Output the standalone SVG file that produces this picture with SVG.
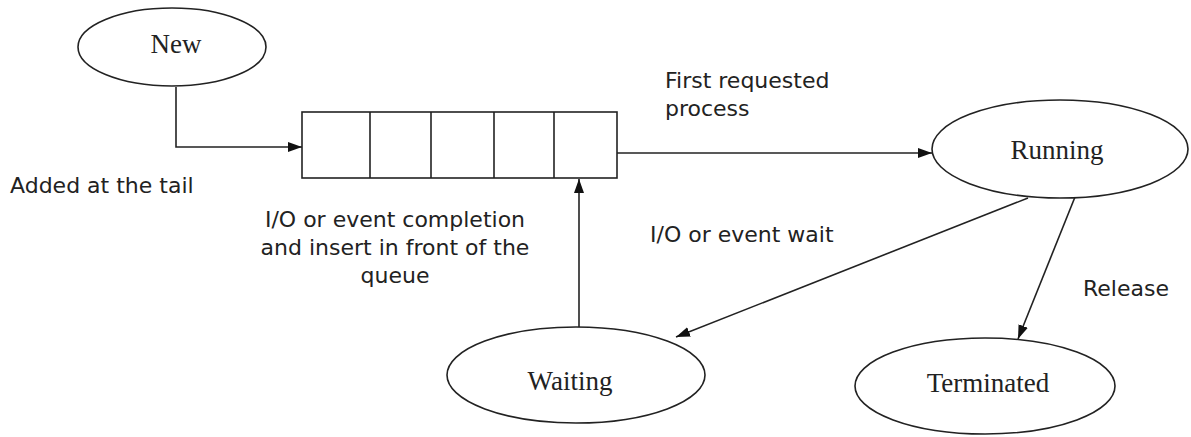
<svg xmlns="http://www.w3.org/2000/svg" width="1191" height="437" viewBox="0 0 1191 437">
<style>
.node{fill:#fff;stroke:#222;stroke-width:1.6}
.nt{font-family:"Liberation Serif",serif;font-size:27px;fill:#222;text-anchor:middle}
.lbl{font-family:"DejaVu Sans",sans-serif;font-size:22px;fill:#222}
.c{fill:none;stroke:#222;stroke-width:1.6;marker-end:url(#ah)}
</style>
<defs>
<marker id="ah" viewBox="0 0 14 10" refX="14" refY="5" markerWidth="14" markerHeight="10" markerUnits="userSpaceOnUse" orient="auto">
<path d="M0,0 L14,5 L0,10 Z" fill="#111"/>
</marker>
</defs>
<rect width="1191" height="437" fill="#fff"/>
<g id="connectors">
<path class="c" d="M176,87 V147 H302"/>
<path class="c" d="M617,153 H932"/>
<path class="c" d="M1028,198 L676,337"/>
<path class="c" d="M1075,197 L1018,339"/>
<path class="c" d="M579,327 V179"/>
</g>
<g id="new">
<ellipse class="node" cx="172" cy="47" rx="94" ry="39"/>
<text class="nt" x="176" y="53">New</text>
</g>
<g id="queue">
<rect class="node" x="302" y="112" width="315" height="66"/>
<path d="M370,112 V178 M431,112 V178 M494,112 V178 M554,112 V178" stroke="#222" stroke-width="1.6" fill="none"/>
</g>
<g id="running">
<ellipse class="node" cx="1060" cy="149" rx="128" ry="49"/>
<text class="nt" x="1057" y="159">Running</text>
</g>
<g id="waiting">
<ellipse class="node" cx="576" cy="375" rx="129" ry="48"/>
<text class="nt" x="570" y="390">Waiting</text>
</g>
<g id="terminated">
<ellipse class="node" cx="985" cy="386" rx="130" ry="48"/>
<text class="nt" x="988" y="392">Terminated</text>
</g>
<g id="labels">
<text class="lbl" x="10" y="193">Added at the tail</text>
<text class="lbl" x="665" y="88">First requested</text>
<text class="lbl" x="665" y="116">process</text>
<text class="lbl" x="650" y="242">I/O or event wait</text>
<text class="lbl" x="1083" y="296">Release</text>
<text class="lbl" text-anchor="middle" x="395" y="227">I/O or event completion</text>
<text class="lbl" text-anchor="middle" x="395" y="255">and insert in front of the</text>
<text class="lbl" text-anchor="middle" x="395" y="283">queue</text>
</g>
</svg>
